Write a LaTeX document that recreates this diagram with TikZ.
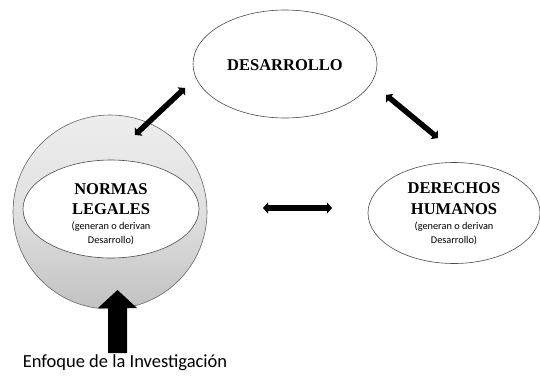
\documentclass[tikz,border=0pt]{standalone}
\usepackage{fontspec}
\setmainfont{Liberation Serif}
\newfontfamily\calib{Carlito}
\usetikzlibrary{shapes.geometric,arrows.meta}
\begin{document}
\begin{tikzpicture}[x=1pt,y=-1pt,
  oval/.style={draw=black!70,line width=0.6pt,ellipse,inner sep=0pt,fill=white,align=center},
  title/.style={font=\fontsize{16.5}{20}\selectfont\bfseries,anchor=base,inner sep=0pt},
  small/.style={font=\calib\fontsize{10.3}{13}\selectfont,anchor=base,inner sep=0pt},
  dbl/.style={line width=5.5pt,{Triangle[width=11pt,length=5pt]}-{Triangle[width=11pt,length=5pt]}}]
\useasboundingbox (0,0) rectangle (540,375);
% big circle
\node[circle,draw=black!60,line width=0.6pt,minimum size=194pt,inner sep=0pt,
  top color=black!7,bottom color=black!24,middle color=black!12] (circ) at (110,212) {};
% ellipses
\node[oval,minimum width=184pt,minimum height=108pt] (des) at (285,64) {};
\node[title] (destxt) at (285,70) {DESARROLLO};
\node[oval,minimum width=176pt,minimum height=98pt] (nl) at (111,209) {};
\node[title] (nlt1) at (111,194) {NORMAS};
\node[title] (nlt2) at (111,214) {LEGALES};
\node[small] (nls1) at (111,229) {(generan o derivan};
\node[small] (nls2) at (111,243) {Desarrollo)};
\node[oval,minimum width=172pt,minimum height=101pt] (dh) at (454,213) {};
\node[title] (dht1) at (454,193) {DERECHOS};
\node[title] (dht2) at (454,214) {HUMANOS};
\node[small] (dhs1) at (454,229) {(generan o derivan};
\node[small] (dhs2) at (454,243) {Desarrollo)};
% arrows
\coordinate (a1) at (135,135); \coordinate (a2) at (185,88);
\coordinate (b1) at (386,95); \coordinate (b2) at (438,138);
\coordinate (c1) at (263,208); \coordinate (c2) at (332,208);
\draw[dbl] (a1) -- (a2);
\draw[dbl] (b1) -- (b2);
\draw[dbl] (c1) -- (c2);
% big arrow
\fill (108,353) -- (108,308) -- (98,308) -- (117.5,290) -- (137,308) -- (127,308) -- (127,353) -- cycle;
\node[font=\calib\fontsize{18.5}{22}\selectfont,anchor=base,inner sep=0pt] (enf) at (125,367) {Enfoque de la Investigación};
\end{tikzpicture}
\end{document}
